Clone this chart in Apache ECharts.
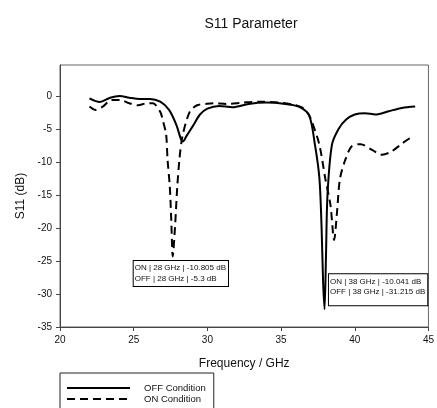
<!DOCTYPE html>
<html><head><meta charset="utf-8">
<script src="https://cdn.jsdelivr.net/npm/echarts@6/dist/echarts.min.js"></script>
<style>html,body{margin:0;padding:0;background:#fff}#c{width:437px;height:408px}</style>
</head><body><div id="c"></div>
<script>
// OFF Condition (solid)
const freqOff = [22.0,22.7,23.4,24.05,24.7,25.4,26.1,26.8,27.4,27.9,28.2,28.33,28.6,29.0,29.5,30.0,30.8,31.7,32.8,34.0,35.3,36.2,36.9,37.3,37.6,37.75,37.85,37.95,38.05,38.15,38.45,38.9,39.4,40.0,40.7,41.4,42.3,43.2,44.1];
const s11Off  = [-0.35,-0.9,-0.25,0,-0.25,-0.45,-0.45,-0.85,-2.1,-4.4,-6.5,-6.9,-6.0,-4.6,-2.8,-1.9,-1.5,-1.7,-1.2,-1.0,-1.2,-1.6,-2.9,-7.4,-12.4,-20,-28,-32.3,-24,-15,-7.4,-5.0,-3.6,-2.8,-2.6,-2.8,-2.3,-1.8,-1.6];
// ON Condition (dashed)
const freqOn = [22.0,22.4,22.9,23.5,24.1,24.7,25.3,25.9,26.3,26.8,27.0,27.2,27.3,27.45,27.55,27.65,27.8,27.95,28.1,28.3,28.8,29.3,29.9,30.4,31.3,32.4,33.5,34.9,36.0,36.55,36.9,37.1,37.6,38.0,38.35,38.6,38.8,39.0,39.4,39.8,40.4,41.2,41.85,42.5,43.2,43.8];
const s11On  = [-1.6,-2.1,-1.6,-0.6,-0.6,-1.1,-1.4,-1.1,-1.1,-2.4,-3.9,-5.8,-9.7,-13.7,-18.8,-24.3,-20,-14,-9.7,-6.2,-2.4,-1.4,-1.2,-1.1,-1.2,-1.0,-0.85,-1.0,-1.4,-1.9,-2.9,-3.9,-7.4,-12.5,-16.5,-21.8,-17.5,-12.5,-9.4,-7.6,-7.3,-8.2,-8.9,-8.4,-7.2,-6.3];
const seriesNames = ['OFF Condition','ON Condition'];
const note1 = ['ON | 28 GHz | -10.805 dB','OFF | 28 GHz | -5.3 dB'];
const note1At = [25.0, -25.0];
const note2 = ['ON | 38 GHz | -10.041 dB','OFF | 38 GHz | -31.215 dB'];
const note2At = [38.25, -27.0];

const zip = (a,b)=>a.map((x,i)=>[x,b[i]]);
const F = 'Liberation Sans, Arial, sans-serif';
const chart = echarts.init(document.getElementById('c'));
const noteLabel = (txt, padB) => ({
  show:true, formatter: txt.join('\n'), position:[0,0], align:'left', verticalAlign:'top',
  fontFamily:F, fontSize:8, lineHeight:10.5, color:'#111',
  backgroundColor:'#fff', borderColor:'#000', borderWidth:1, padding:[2,2,padB,1]
});
chart.setOption({
  animation:false,
  title:{text:'S11 Parameter', left:246, textAlign:'center', top:12,
    textStyle:{fontFamily:F, fontSize:14, fontWeight:'normal', color:'#111'}},
  grid:{left:60, right:7, top:65, bottom:81, show:true, borderColor:'#666', borderWidth:1},
  legend:{data:seriesNames, orient:'vertical', left:60, top:373, height:60,
    itemWidth:63, itemHeight:10, itemGap:1,
    padding:[10,8,20,6], borderColor:'#222', borderWidth:1,
    itemStyle:{opacity:0},
    textStyle:{fontFamily:F, fontSize:9.5, color:'#111', padding:[0,0,0,9]}},
  xAxis:{type:'value', min:20, max:45, interval:5, splitLine:{show:false},
    axisLine:{onZero:false, lineStyle:{color:'#444'}}, axisTick:{show:true, length:4, lineStyle:{color:'#444'}},
    axisLabel:{fontFamily:F, fontSize:10, color:'#111', margin:8},
    name:'Frequency / GHz', nameLocation:'middle', nameGap:31,
    nameTextStyle:{fontFamily:F, fontSize:12, color:'#111'}},
  yAxis:{type:'value', min:-35, max:4.7, interval:5, splitLine:{show:false},
    axisLine:{show:true, onZero:false, lineStyle:{color:'#444'}}, axisTick:{show:true, length:4, lineStyle:{color:'#444'}},
    axisLabel:{fontFamily:F, fontSize:10, color:'#111', margin:8, showMaxLabel:false},
    name:'S11 (dB)', nameLocation:'middle', nameGap:33,
    nameTextStyle:{fontFamily:F, fontSize:12, color:'#111'}},
  series:[
    {name:seriesNames[0], type:'line', data:zip(freqOff,s11Off), smooth:0.3, symbol:'none',
      lineStyle:{color:'#000', width:2}, itemStyle:{color:'#000'}, z:3},
    {name:seriesNames[1], type:'line', data:zip(freqOn,s11On), smooth:0.3, symbol:'none',
      lineStyle:{color:'#000', width:2, type:[8,5]}, itemStyle:{color:'#000'}, z:2,
      markPoint:{symbol:'rect', symbolSize:0, silent:true, z:10,
        data:[{coord:note1At, label:noteLabel(note1,2)},{coord:note2At, label:noteLabel(note2,8)}]}}
  ]
});
</script></body></html>
